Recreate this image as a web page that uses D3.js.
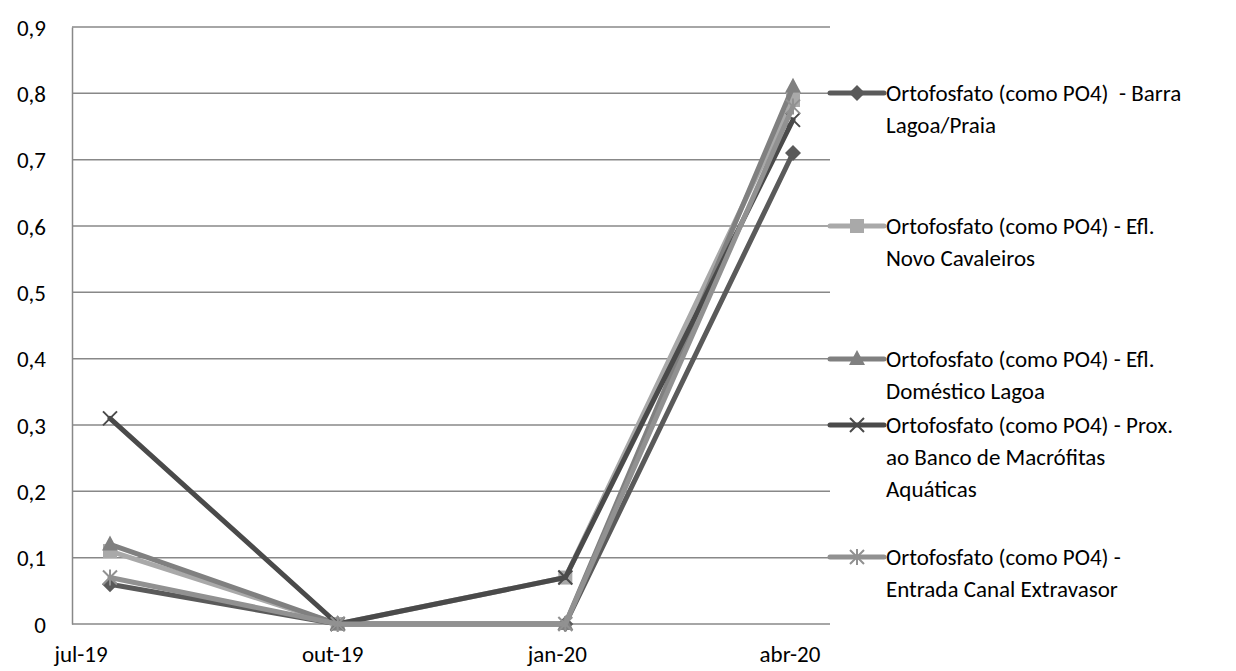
<!DOCTYPE html>
<html>
<head>
<meta charset="utf-8">
<script src="https://cdn.jsdelivr.net/npm/d3@7/dist/d3.min.js"></script>
<style>
  html, body { margin: 0; padding: 0; background: #fff; }
  svg { display: block; }
  text { font-family: Carlito, Lato, "Open Sans", sans-serif; fill: #000; white-space: pre; }
</style>
</head>
<body>
<svg id="chart" width="1236" height="671"></svg>
<script>
// Sampling dates (category axis)
const categories = ["jul-19", "out-19", "jan-20", "abr-20"];

// Orthophosphate (as PO4) per sampling point, mg/L
const barraLagoaPraia   = [0.06, 0, 0,    0.71];
const eflNovoCavaleiros = [0.11, 0, 0.07, 0.79];
const eflDomesticoLagoa = [0.12, 0, 0,    0.81];
const proxMacrofitas    = [0.31, 0, 0.07, 0.76];
const entradaCanal      = [0.07, 0, 0,    0.78];

const yTicks = [0, 0.1, 0.2, 0.3, 0.4, 0.5, 0.6, 0.7, 0.8, 0.9];
const yTickLabels = ["0", "0,1", "0,2", "0,3", "0,4", "0,5", "0,6", "0,7", "0,8", "0,9"];

const seriesNames = [
  ["Ortofosfato (como PO4)  - Barra", "Lagoa/Praia"],
  ["Ortofosfato (como PO4) - Efl.", "Novo Cavaleiros"],
  ["Ortofosfato (como PO4) - Efl.", "Doméstico Lagoa"],
  ["Ortofosfato (como PO4) - Prox.", "ao Banco de Macrófitas", "Aquáticas"],
  ["Ortofosfato (como PO4) -", "Entrada Canal Extravasor"]
];

const series = [
  { values: barraLagoaPraia,   color: "#5a5a5a", marker: "diamond" },
  { values: eflNovoCavaleiros, color: "#a9a9a9", marker: "square" },
  { values: eflDomesticoLagoa, color: "#808080", marker: "triangle" },
  { values: proxMacrofitas,    color: "#4a4a4a", marker: "x" },
  { values: entradaCanal,      color: "#919191", marker: "star" }
];

const FONT = "23px";
const svg = d3.select("#chart");
const plot = { left: 72, right: 830, top: 27, bottom: 624 };

const x = d3.scalePoint().domain(categories).range([110, 793]);
const y = d3.scaleLinear().domain([0, 0.9]).range([plot.bottom, plot.top]);

const axisColor = "#888888";

// Horizontal gridlines
svg.append("g").selectAll("line").data(yTicks.slice(1)).join("line")
  .attr("x1", plot.left).attr("x2", plot.right)
  .attr("y1", d => y(d)).attr("y2", d => y(d))
  .attr("stroke", axisColor).attr("stroke-width", 1.5);

// Value axis
const yAxis = d3.axisLeft(y).tickValues(yTicks)
  .tickFormat((d, i) => yTickLabels[i]).tickSize(0).tickPadding(26);
const gy = svg.append("g").attr("transform", `translate(${plot.left},0)`).call(yAxis);
gy.attr("font-size", null).attr("font-family", null);
gy.select(".domain").attr("stroke", axisColor).attr("stroke-width", 1.5);
gy.selectAll("text").style("font-size", FONT).attr("dy", "0.35em");

// Category axis
svg.append("line")
  .attr("x1", plot.left).attr("x2", plot.right)
  .attr("y1", plot.bottom).attr("y2", plot.bottom)
  .attr("stroke", axisColor).attr("stroke-width", 1.5);
const labelShift = [-29, -5, -8, -3];
svg.append("g").selectAll("text").data(categories).join("text")
  .attr("x", (d, i) => x(d) + labelShift[i])
  .attr("y", 662)
  .attr("text-anchor", "middle")
  .style("font-size", FONT)
  .text(d => d);

// Marker shapes
function drawMarker(g, type, color, cx, cy) {
  const s = 7;
  if (type === "diamond") {
    g.append("path").attr("d", `M${cx},${cy - s - 1}L${cx + s + 1},${cy}L${cx},${cy + s + 1}L${cx - s - 1},${cy}Z`)
      .attr("fill", color);
  } else if (type === "square") {
    g.append("rect").attr("x", cx - s).attr("y", cy - s).attr("width", 2 * s).attr("height", 2 * s)
      .attr("fill", color);
  } else if (type === "triangle") {
    g.append("path").attr("d", `M${cx},${cy - s - 2}L${cx + s + 1},${cy + s - 1}L${cx - s - 1},${cy + s - 1}Z`)
      .attr("fill", color);
  } else if (type === "x") {
    g.append("path").attr("d", `M${cx - s},${cy - s}L${cx + s},${cy + s}M${cx - s},${cy + s}L${cx + s},${cy - s}`)
      .attr("stroke", color).attr("stroke-width", 2);
  } else if (type === "star") {
    g.append("path").attr("d",
      `M${cx - s},${cy - s}L${cx + s},${cy + s}M${cx - s},${cy + s}L${cx + s},${cy - s}M${cx},${cy - s - 1}L${cx},${cy + s + 1}`)
      .attr("stroke", color).attr("stroke-width", 2);
  }
}

// Series lines and markers
const line = d3.line().x((d, i) => x(categories[i])).y(d => y(d));
series.forEach(s => {
  const g = svg.append("g");
  g.append("path").datum(s.values)
    .attr("d", line)
    .attr("fill", "none")
    .attr("stroke", s.color)
    .attr("stroke-width", 5)
    .attr("stroke-linejoin", "round")
    .attr("stroke-linecap", "round");
  s.values.forEach((v, i) => drawMarker(g, s.marker, s.color, x(categories[i]), y(v)));
});

// Legend
const legendTop = [93, 226, 359, 425, 557];
const lineH = 32;
series.forEach((s, k) => {
  const g = svg.append("g");
  const ly = legendTop[k];
  g.append("line").attr("x1", 830).attr("x2", 884).attr("y1", ly).attr("y2", ly)
    .attr("stroke", s.color).attr("stroke-width", 5).attr("stroke-linecap", "round");
  drawMarker(g, s.marker, s.color, 857, ly);
  seriesNames[k].forEach((t, j) => {
    g.append("text").attr("x", 886).attr("y", ly + j * lineH).attr("dy", "0.35em")
      .style("font-size", FONT).text(t);
  });
});
</script>
</body>
</html>
